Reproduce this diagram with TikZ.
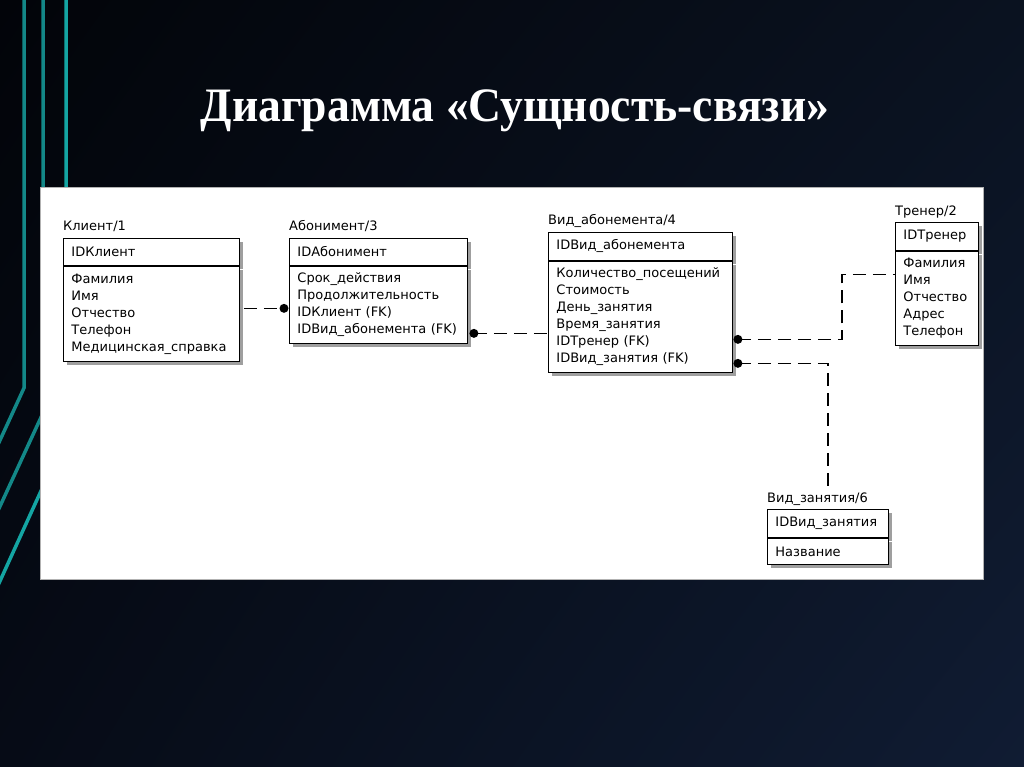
\documentclass[tikz,border=0pt]{standalone}
\usepackage{fontspec}
\usepackage{graphicx}
\setmainfont{Liberation Serif}
\newfontfamily\erfont{DejaVu Sans}
\usetikzlibrary{shadows,calc,shadings}
\definecolor{bgA}{HTML}{020409}
\definecolor{bgB}{HTML}{0A1220}
\definecolor{bgC}{HTML}{060B16}
\definecolor{bgD}{HTML}{101C33}
\definecolor{tealdim}{HTML}{138888}
\definecolor{tealbr}{HTML}{14A5A3}
\begin{document}
\begin{tikzpicture}[x=1pt,y=-1pt,
  ent/.style={draw=black, line width=0.9pt, fill=white, anchor=north west,
    inner xsep=8pt, inner ysep=0pt, align=left,
    font=\erfont\fontsize{13}{17}\selectfont,
    drop shadow={shadow xshift=4pt, shadow yshift=-4pt, fill=gray!75, opacity=1}},
  lbl/.style={anchor=base west, inner sep=0pt, font=\erfont\fontsize{13}{15}\selectfont},
  rel/.style={line width=1.2pt, dash pattern=on 13pt off 7pt},
  dot/.style={fill=black},
  deco/.style={line width=3.5pt}
]
\useasboundingbox (0,0) rectangle (1024,767);
\clip (0,0) rectangle (1024,767);
% background
\shade[upper left=bgA, upper right=bgB, lower left=bgC, lower right=bgD] (0,0) rectangle (1024,767);
% decorative teal lines
\draw[deco, tealdim] (24,-5) -- (24,388) -- (-10,462);
\draw[deco, tealdim] (43,-5) -- (43,413) -- (-10,528);
\draw[deco, tealbr] (66,-5) -- (66,436) -- (-10,603);
% title
\node[text=white, font=\bfseries\fontsize{48}{58}\selectfont] (title) at (515,111)
  {\scalebox{0.95}[1]{Диаграмма «Сущность-связи»}};
% white panel
\node[fill=white, draw=gray!60, line width=0.6pt, anchor=north west, inner sep=0pt,
  minimum width=943pt, minimum height=392pt] (panel) at (40,187) {};

% Клиент/1
\node[ent, text width=160pt, minimum height=27pt] (k1h) at (63,238) {IDКлиент};
\node[ent, text width=160pt, minimum height=95pt] (k1b) at (k1h.south west)
  {Фамилия\\Имя\\Отчество\\Телефон\\Медицинская\_справка};
\node[lbl] (k1l) at ([shift={(0,-7)}]k1h.north west) {Клиент/1};

% Абонимент/3
\node[ent, text width=162pt, minimum height=27pt] (a3h) at (289,238) {IDАбонимент};
\node[ent, text width=162pt, minimum height=77pt] (a3b) at (a3h.south west)
  {Срок\_действия\\Продолжительность\\IDКлиент (FK)\\IDВид\_абонемента (FK)};
\node[lbl] (a3l) at ([shift={(0,-7)}]a3h.north west) {Абонимент/3};

% Вид_абонемента/4
\node[ent, text width=168pt, minimum height=28pt] (v4h) at (548,232) {IDВид\_абонемента};
\node[ent, text width=168pt, minimum height=111pt] (v4b) at (v4h.south west)
  {Количество\_посещений\\Стоимость\\День\_занятия\\Время\_занятия\\IDТренер (FK)\\IDВид\_занятия (FK)};
\node[lbl] (v4l) at ([shift={(0,-7)}]v4h.north west) {Вид\_абонемента/4};

% Тренер/2
\node[ent, text width=67pt, minimum height=28pt] (t2h) at (895,222) {IDТренер};
\node[ent, text width=67pt, minimum height=94pt] (t2b) at (t2h.south west)
  {Фамилия\\Имя\\Отчество\\Адрес\\Телефон};
\node[lbl] (t2l) at ([shift={(0,-7)}]t2h.north west) {Тренер/2};

% Вид_занятия/6
\node[ent, text width=105pt, minimum height=28pt] (z6h) at (767,509) {IDВид\_занятия};
\node[ent, text width=105pt, minimum height=26pt] (z6b) at (z6h.south west) {Название};
\node[lbl] (z6l) at ([shift={(0,-7)}]z6h.north west) {Вид\_занятия/6};

% relationship end points
\coordinate (d1) at ([shift={(-5,3.5)}]a3b.west);
\coordinate (d2) at ([shift={(6,28.5)}]a3b.east);
\coordinate (d3) at ([shift={(5,22.5)}]v4b.east);
\coordinate (d4) at ([shift={(5,46.5)}]v4b.east);
\coordinate (c3) at ([shift={(-53,-24)}]t2b.west);
\coordinate (c4) at ([shift={(61,0)}]z6l.north west);

% connectors
\draw[rel] ([xshift=4pt]k1b.east |- d1) -- (d1);
\draw[rel] (d2) -- (v4b.west |- d2);
\draw[rel] (d3) -| (c3) -- (t2b.west |- c3);
\draw[rel] (d4) -| (c4);
\foreach \p in {d1,d2,d3,d4} \fill[dot] (\p) circle (4.5pt);
\end{tikzpicture}
\end{document}
